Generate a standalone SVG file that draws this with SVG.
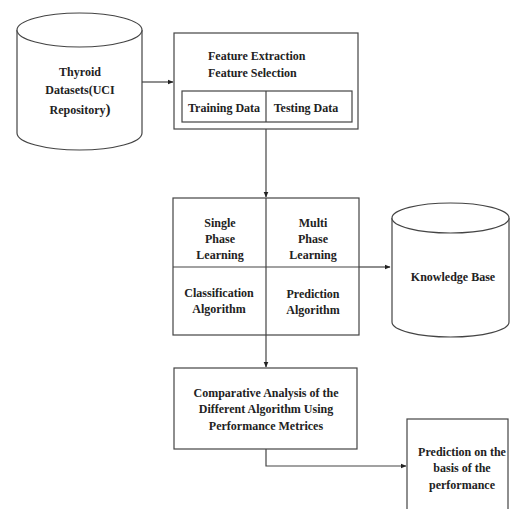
<svg xmlns="http://www.w3.org/2000/svg" width="510" height="509" viewBox="0 0 510 509">
<defs>
<style>
.s{fill:#fff;stroke:#444;stroke-width:1.2}
.l{fill:none;stroke:#444;stroke-width:1.2}
.t{font-family:"Liberation Serif","Times New Roman",serif;font-weight:bold;font-size:12px;fill:#222;text-anchor:middle}
</style>
<marker id="ah" markerWidth="6" markerHeight="6" refX="5.5" refY="3" orient="auto" markerUnits="userSpaceOnUse">
<path d="M0,0.5 L6,3 L0,5.5 Z" fill="#222"/>
</marker>
</defs>
<rect width="510" height="509" fill="#fff"/>
<g id="connectors">
<path class="l" d="M142,82 H173" marker-end="url(#ah)"/>
<path class="l" d="M266,129 V197" marker-end="url(#ah)"/>
<path class="l" d="M359,267 H390" marker-end="url(#ah)"/>
<path class="l" d="M266,335 V367" marker-end="url(#ah)"/>
<path class="l" d="M266,449 V466 H406" marker-end="url(#ah)"/>
</g>
<g id="thyroid">
<path class="s" d="M17,30 V133 A62.5,17 0 0 0 142,133 V30"/>
<ellipse class="s" cx="79.5" cy="30" rx="62.5" ry="17"/>
<text class="t" x="80" y="76">Thyroid</text>
<text class="t" x="80" y="94">Datasets(UCI</text>
<text class="t" x="80" y="114">Repository<tspan font-size="15">)</tspan></text>
</g>
<g id="features">
<rect class="s" x="174" y="33" width="184" height="96"/>
<text class="t" x="208" y="60" text-anchor="start" style="text-anchor:start">Feature Extraction</text>
<text class="t" x="208" y="77" style="text-anchor:start">Feature Selection</text>
<rect class="s" x="182" y="91" width="170" height="31"/>
<line class="l" x1="266" y1="91" x2="266" y2="122"/>
<text class="t" x="224" y="112">Training Data</text>
<text class="t" x="306" y="112">Testing Data</text>
</g>
<g id="learning">
<rect class="s" x="173" y="198" width="186" height="137"/>
<line class="l" x1="173" y1="267" x2="359" y2="267"/>
<line class="l" x1="266" y1="198" x2="266" y2="335"/>
<text class="t" x="220" y="227">Single</text>
<text class="t" x="220" y="243">Phase</text>
<text class="t" x="220" y="259">Learning</text>
<text class="t" x="313" y="227">Multi</text>
<text class="t" x="313" y="243">Phase</text>
<text class="t" x="313" y="259">Learning</text>
<text class="t" x="219" y="297">Classification</text>
<text class="t" x="219" y="313">Algorithm</text>
<text class="t" x="313" y="298">Prediction</text>
<text class="t" x="313" y="314">Algorithm</text>
</g>
<g id="knowledge">
<path class="s" d="M392,218 V322 A58.5,15 0 0 0 509,322 V218"/>
<ellipse class="s" cx="450.5" cy="218" rx="58.5" ry="15"/>
<text class="t" x="453" y="281">Knowledge Base</text>
</g>
<g id="comparative">
<rect class="s" x="174" y="368" width="183" height="81"/>
<text class="t" x="266" y="397">Comparative Analysis of the</text>
<text class="t" x="266" y="413">Different Algorithm Using</text>
<text class="t" x="266" y="430">Performance Metrices</text>
</g>
<g id="prediction">
<rect class="s" x="407" y="419" width="101" height="95"/>
<text class="t" x="462" y="456">Prediction on the</text>
<text class="t" x="462" y="472">basis of the</text>
<text class="t" x="462" y="489">performance</text>
</g>
</svg>
